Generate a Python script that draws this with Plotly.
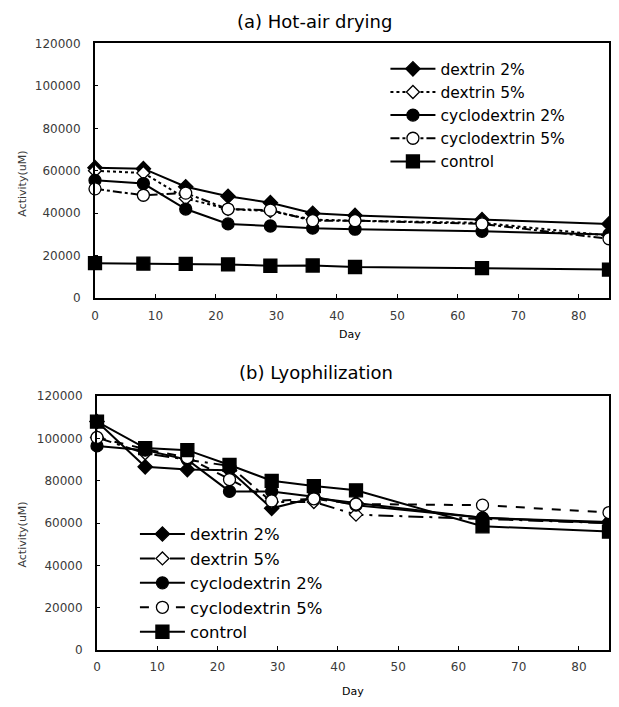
import plotly.graph_objects as go

days = [0, 8, 15, 22, 29, 36, 43, 64, 85]
series_names = ["dextrin 2%", "dextrin 5%", "cyclodextrin 2%", "cyclodextrin 5%", "control"]

# (a) Hot-air drying
hot_dextrin2 = [61500, 61000, 52500, 48000, 45000, 40000, 39000, 37000, 35000]
hot_dextrin5 = [60000, 59000, 47000, 42000, 41000, 37000, 36500, 35500, 29500]
hot_cyclo2 = [55500, 54000, 42000, 35000, 34000, 33000, 32500, 31500, 30000]
hot_cyclo5 = [51500, 48500, 49500, 42000, 41500, 36500, 36500, 35000, 28000]
hot_control = [16500, 16300, 16200, 15900, 15300, 15400, 14700, 14200, 13500]

# (b) Lyophilization
lyo_dextrin2 = [108000, 86600, 85300, 85000, 67000, 72000, 69500, 62500, 60500]
lyo_dextrin5 = [100500, 93000, 90000, 87000, 70000, 70000, 64000, 62000, 60000]
lyo_cyclo2 = [96500, 94500, 90000, 75000, 75000, 72500, 68500, 62500, 60000]
lyo_cyclo5 = [100500, 95000, 91000, 80600, 70500, 71500, 69000, 68500, 65000]
lyo_control = [108000, 95500, 94500, 87500, 80000, 77500, 75500, 58500, 56000]

x_ticks = [0, 10, 20, 30, 40, 50, 60, 70, 80]
y_ticks = [0, 20000, 40000, 60000, 80000, 100000, 120000]

FONT = "DejaVu Sans, Verdana, sans-serif"
TICKC = "#3a3a3a"

styles_a = [
    dict(dash="solid", symbol="diamond", size=11, fill="black"),
    dict(dash="dot", symbol="diamond", size=10, fill="white"),
    dict(dash="solid", symbol="circle", size=12, fill="black"),
    dict(dash="dashdot", symbol="circle", size=12, fill="white"),
    dict(dash="solid", symbol="square", size=13, fill="black"),
]
styles_b = [
    dict(dash="solid", symbol="diamond", size=11, fill="black"),
    dict(dash="longdashdot", symbol="diamond", size=10, fill="white"),
    dict(dash="solid", symbol="circle", size=12, fill="black"),
    dict(dash="dash", symbol="circle", size=12, fill="white"),
    dict(dash="solid", symbol="square", size=13, fill="black"),
]

fig = go.Figure()

for name, ys, st in zip(series_names,
                        [hot_dextrin2, hot_dextrin5, hot_cyclo2, hot_cyclo5, hot_control],
                        styles_a):
    fig.add_trace(go.Scatter(
        x=days, y=ys, name=name, mode="lines+markers",
        line=dict(color="black", width=2, dash=st["dash"]),
        marker=dict(symbol=st["symbol"], size=st["size"], color=st["fill"],
                    line=dict(color="black", width=1.3)),
        xaxis="x", yaxis="y", legend="legend", cliponaxis=False,
    ))

for name, ys, st in zip(series_names,
                        [lyo_dextrin2, lyo_dextrin5, lyo_cyclo2, lyo_cyclo5, lyo_control],
                        styles_b):
    fig.add_trace(go.Scatter(
        x=days, y=ys, name=name, mode="lines+markers",
        line=dict(color="black", width=2, dash=st["dash"]),
        marker=dict(symbol=st["symbol"], size=st["size"], color=st["fill"],
                    line=dict(color="black", width=1.3)),
        xaxis="x2", yaxis="y2", legend="legend2", cliponaxis=False,
    ))

# the page has an 8px body margin: compensate so positions match the window
OFF = 8
W = 619 - 2 * OFF
H = 707 - OFF
ml, mr = 95 - OFF, 1
pw = W - ml - mr


def px(x):
    return (x - OFF - ml) / pw


def py(y):
    return (H - (y - OFF)) / H


def xax(domain, anchor):
    return dict(domain=domain, anchor=anchor, range=[0, 85], tickvals=x_ticks,
                showgrid=False, zeroline=False, showline=True, linecolor="black",
                linewidth=2, mirror=True, ticks="inside", ticklen=4, tickcolor="black",
                tickfont=dict(family=FONT, size=12, color=TICKC), ticklabelstandoff=5)


def yax(domain, anchor):
    return dict(domain=domain, anchor=anchor, range=[0, 120000], tickvals=y_ticks,
                showgrid=False, zeroline=False, showline=True, linecolor="black",
                linewidth=2, mirror=True, ticks="inside", ticklen=3, tickcolor="black",
                tickformat="d",
                tickfont=dict(family=FONT, size=12, color=TICKC), ticklabelstandoff=10)


fig.update_layout(
    width=W, height=H,
    margin=dict(l=ml, r=mr, t=0, b=0),
    paper_bgcolor="white", plot_bgcolor="white",
    font=dict(family=FONT, color="black"),
    xaxis=xax([px(95), 1], "y"),
    yaxis=yax([py(297), py(37)], "x"),
    xaxis2=xax([px(97), 1], "y2"),
    yaxis2=yax([py(656), py(397)], "x2"),
    legend=dict(x=px(386), y=py(46), xanchor="left", yanchor="top",
                bgcolor="rgba(0,0,0,0)", font=dict(family=FONT, size=15.5, color="black"),
                itemwidth=45, tracegroupgap=0),
    legend2=dict(x=px(135), y=py(520), xanchor="left", yanchor="top",
                 bgcolor="rgba(0,0,0,0)", font=dict(family=FONT, size=16.5, color="black"),
                 itemwidth=45, tracegroupgap=0),
    showlegend=True,
)

ann = [
    dict(text="(a) Hot-air drying", x=px(315), y=py(15), size=18),
    dict(text="(b) Lyophilization", x=px(316), y=py(373), size=18),
    dict(text="Day", x=px(350), y=py(334), size=11),
    dict(text="Day", x=px(354), y=py(698), size=11),
]
for a in ann:
    fig.add_annotation(text=a["text"], x=a["x"], y=a["y"], xref="paper", yref="paper",
                       showarrow=False, xanchor="center", yanchor="middle",
                       font=dict(family=FONT, size=a["size"], color="black"))
for yc in [180, 538]:
    fig.add_annotation(text="Activity(uM)", x=px(22), y=py(yc),
                       xref="paper", yref="paper", showarrow=False, textangle=-90,
                       xanchor="center", yanchor="middle",
                       font=dict(family=FONT, size=11, color=TICKC))

fig.write_html("out.html")
